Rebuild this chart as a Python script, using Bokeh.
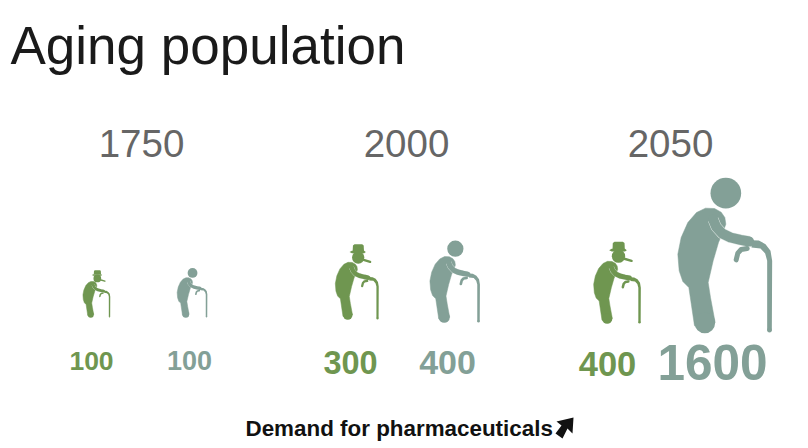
from bokeh.plotting import figure
from bokeh.embed import file_html
from bokeh.resources import INLINE
from bokeh.core.properties import value
import numpy as np

years = ["1750", "2000", "2050"]
green_values = [100, 300, 400]
grey_values = [100, 400, 1600]
title = "Aging population"
footer = "Demand for pharmaceuticals"

GREEN = "#6f9650"
GREY = "#83a097"
TEXT = "#666666"

year_x = [141, 406, 670]
green_cane_x = [109, 377, 639]
green_foot_y = [317, 319, 323]
green_scale = [0.29, 0.46, 0.50]
green_label_x = [91, 350, 607]
green_label_y = [360, 362, 363]
green_label_size = [26.5, 32.5, 34.5]
grey_cane_x = [206, 478, 769]
grey_foot_y = [317, 322, 332]
grey_scale = [0.32, 0.53, 1.0]
grey_label_x = [189, 447, 712]
grey_label_y = [360, 362, 362]
grey_label_size = [27, 34, 49.5]

# pictogram outline, in px of the largest figure, origin at cane base
U = 1 / 3
body = np.array([(405,112),(432,113),(452,124),(463,140),(466,160),(458,182),(444,215),(428,270),
                 (413,335),(420,380),(434,455),(372,465),
                 (355,350),(337,332),(326,300),(322,250),(332,200),(352,155),(378,125)], float)
arm = np.array([(428,146),(437,168),(455,188),(480,200),(510,207),(536,212)], float)
hand = np.array([(530,233),(512,236),(502,247),(497,267)], float)
cane = np.array([(543,208),(565,209),(585,220),(600,240),(605,270),(604,478),(590,478),(590,270),
                 (584,248),(570,233),(543,230)], float)
head = (466, 67, 46)
ORIGIN = (597, 485)

p = figure(width=808, height=448, x_range=(0, 808), y_range=(448, 0),
           output_backend="svg", toolbar_location=None, min_border=0,
           outline_line_color=None, background_fill_color="white")
p.axis.visible = False
p.grid.visible = False


def place(pts, cx, fy, s):
    pts = np.asarray(pts, float)
    return cx + (pts[:, 0] - ORIGIN[0]) * U * s, fy + (pts[:, 1] - ORIGIN[1]) * U * s


def person(cx, fy, s, col, hat):
    x, y = place(body, cx, fy, s)
    p.patch(x, y, fill_color=col, line_color=col, line_width=0.5)
    x, y = place([(403, 456)], cx, fy, s)
    p.circle(x, y, radius=31 * U * s, fill_color=col, line_color=None)
    x, y = place(arm, cx, fy, s)
    p.line(x, y, line_color="#dfe8e4", line_width=11 * s, line_cap="butt", line_join="round")
    p.line(x, y, line_color=col, line_width=10 * s, line_cap="round", line_join="round")
    x, y = place(hand, cx, fy, s)
    p.line(x, y, line_color=col, line_width=5 * s, line_cap="round", line_join="round")
    x, y = place(cane, cx, fy, s)
    p.patch(x, y, fill_color=col, line_color=None)
    x, y = place([(597, 478)], cx, fy, s)
    p.circle(x, y, radius=7 * U * s, fill_color=col, line_color=None)
    if hat:
        x, y = place([(471, 81)], cx, fy, s)
        p.circle(x, y, radius=40 * U * s, fill_color=col, line_color=None)
        x, y = place([(435,38),(509,38),(507,2),(497,-5),(447,-5),(437,2)], cx, fy, s)
        p.patch(x, y, fill_color=col, line_color=None)
        x, y = place([(415,45),(430,37),(510,37),(521,45),(510,53),(430,53)], cx, fy, s)
        p.patch(x, y, fill_color=col, line_color=None)
        x, y = place([(501,95),(549,109)], cx, fy, s)
        p.line(x, y, line_color=col, line_width=5 * s, line_cap="round")
    else:
        hx, hy, hr = head
        x, y = place([(hx, hy)], cx, fy, s)
        p.circle(x, y, radius=hr * U * s, fill_color=col, line_color=None)


for i in range(3):
    person(green_cane_x[i], green_foot_y[i], green_scale[i], GREEN, True)
    person(grey_cane_x[i], grey_foot_y[i], grey_scale[i], GREY, False)

p.text([10], [45], text=[title], text_font=value("Liberation Sans"), text_font_size="53px",
       text_color="#1a1a1a", text_baseline="middle", text_align="left")
p.text(year_x, [142.5] * 3, text=years, text_font=value("Liberation Sans"), text_font_size="38.5px",
       text_color=TEXT, text_baseline="middle", text_align="center")
for i in range(3):
    p.text([green_label_x[i]], [green_label_y[i]], text=[str(green_values[i])], text_font=value("Liberation Sans"),
           text_font_style="bold", text_font_size=f"{green_label_size[i]}px", text_color=GREEN,
           text_baseline="middle", text_align="center")
    p.text([grey_label_x[i]], [grey_label_y[i]], text=[str(grey_values[i])], text_font=value("Liberation Sans"),
           text_font_style="bold", text_font_size=f"{grey_label_size[i]}px", text_color=GREY,
           text_baseline="middle", text_align="center")
p.text([245], [428], text=[footer], text_font=value("Liberation Sans"), text_font_style="bold",
       text_font_size="22.4px", text_color="#111111", text_baseline="middle", text_align="left")
p.patch([573, 572, 567, 562, 555, 561, 556], [417, 433, 428, 438, 433, 425, 421],
        fill_color="#111111", line_color=None)

open("out.html", "w").write(file_html(p, INLINE))
